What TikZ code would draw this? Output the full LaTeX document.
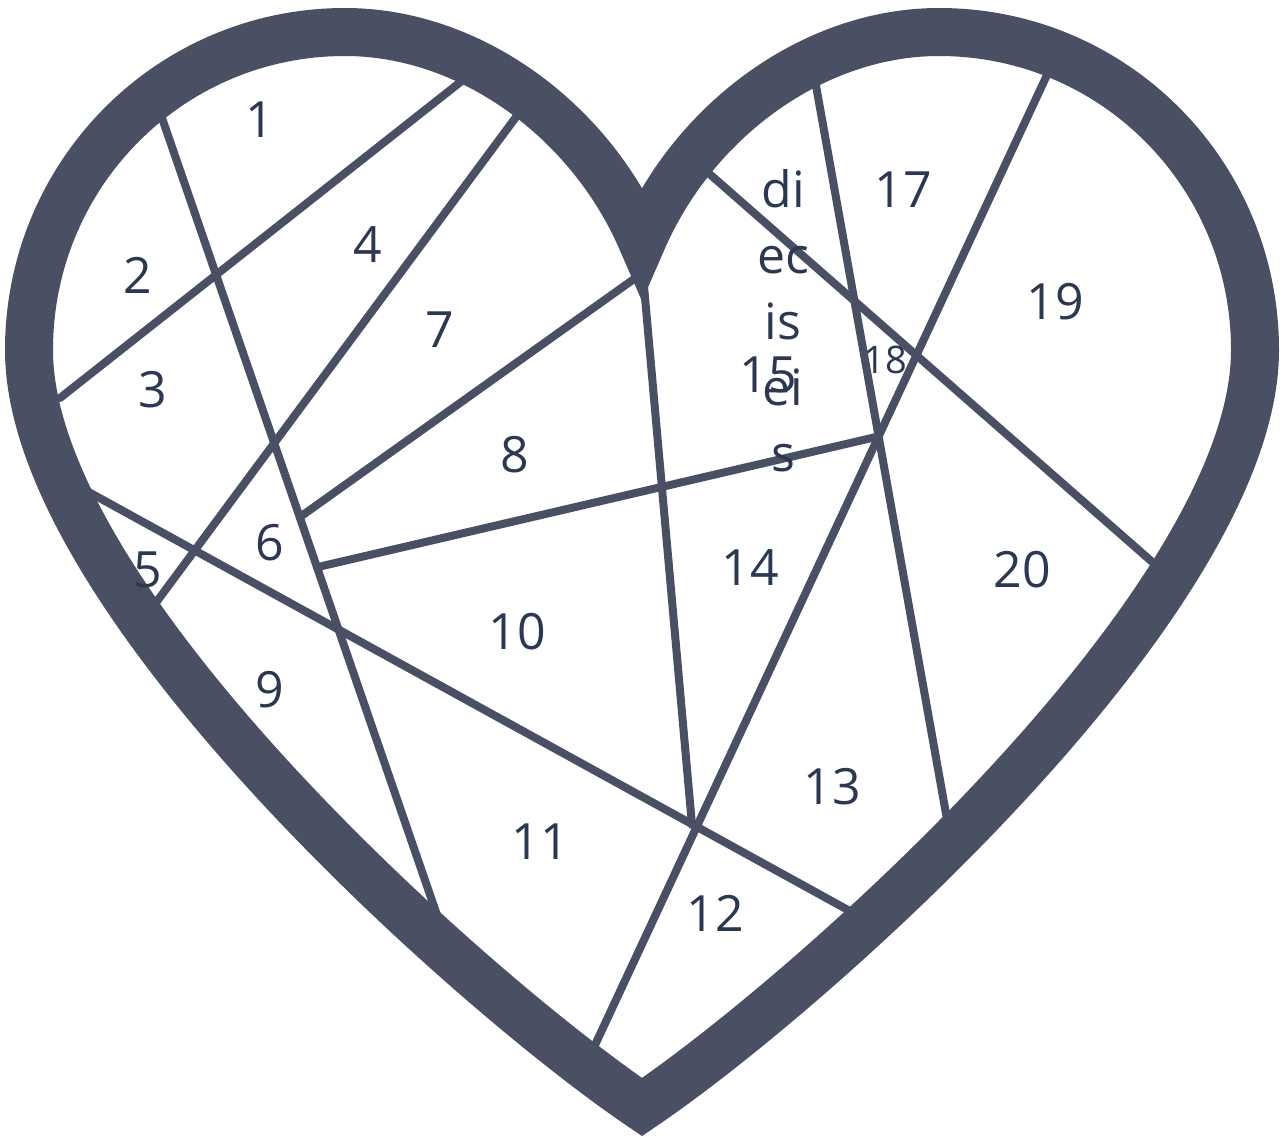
\documentclass[tikz,border=0pt]{standalone}
\usepackage{fontspec}
\setmainfont{Open Sans}
\definecolor{heartc}{HTML}{4A5064}
\definecolor{txtc}{HTML}{2A3852}
\begin{document}
\begin{tikzpicture}[x=1pt,y=-1pt,
  seg/.style={draw=heartc,line width=8pt,line cap=round},
  heartline/.style={draw=heartc,line width=48pt,line join=miter,miter limit=10},
  num/.style={text=txtc,font=\fontsize{50}{60}\selectfont,inner sep=0pt},
  smallnum/.style={text=txtc,font=\fontsize{38}{44}\selectfont,inner sep=0pt},
  vword/.style={text=txtc,font=\fontsize{50}{66}\selectfont,inner sep=0pt,align=center}]
\useasboundingbox (0,0) rectangle (1283,1136);

% end points of the inner lines
\coordinate (a1) at (162,118);  \coordinate (b1) at (437,915);
\coordinate (a2) at (60,398);   \coordinate (b2) at (463,80);
\coordinate (a3) at (519,113);  \coordinate (b3) at (152,608);
\coordinate (a4) at (300,517);  \coordinate (b4) at (641,274);
\coordinate (a5) at (85,490);   \coordinate (b5) at (848,910);
\coordinate (a6) at (318,567);  \coordinate (b6) at (876,437);
\coordinate (a7) at (643,275);  \coordinate (b7) at (692,825);
\coordinate (a8) at (595,1045); \coordinate (b8) at (1047,75);
\coordinate (a9) at (815,80);   \coordinate (b9) at (948,825);
\coordinate (a10) at (705,170); \coordinate (b10) at (1158,567);

\foreach \i in {1,...,10} { \draw[seg] (a\i) -- (b\i); }

% heart outline
\coordinate (cusp) at (642,241);
\coordinate (ltop) at (345,32);
\coordinate (lside) at (29,350);
\coordinate (tip) at (642,1107);
\coordinate (rside) at (1255,350);
\coordinate (rtop) at (939,32);
\draw[heartline] (cusp) .. controls (590,120) and (470,32) .. (ltop)
  .. controls (170,32) and (29,174) .. (lside)
  .. controls (29,600) and (476,995) .. (tip)
  .. controls (808,995) and (1255,600) .. (rside)
  .. controls (1255,174) and (1114,32) .. (rtop)
  .. controls (814,32) and (694,120) .. cycle;

% labels
\node[num] (n1) at (260,120) {1};
\node[num] (n2) at (138,275) {2};
\node[num] (n3) at (153,390) {3};
\node[num] (n4) at (368,245) {4};
\node[num] (n5) at (148,570) {5};
\node[num] (n6) at (270,543) {6};
\node[num] (n7) at (440,330) {7};
\node[num] (n8) at (515,455) {8};
\node[num] (n9) at (270,690) {9};
\node[num] (n10) at (517,632) {10};
\node[num] (n11) at (540,842) {11};
\node[num] (n12) at (715,913) {12};
\node[num] (n13) at (832,787) {13};
\node[num] (n14) at (750,568) {14};
\node[num] (n15) at (768,375) {15};
\node[num] (n17) at (903,190) {17};
\node[smallnum] (n18) at (885,360) {18};
\node[num] (n19) at (1055,302) {19};
\node[num] (n20) at (1022,570) {20};
\node[vword] (n16) at (783,321) {di\\ec\\is\\ei\\s};
\end{tikzpicture}
\end{document}
